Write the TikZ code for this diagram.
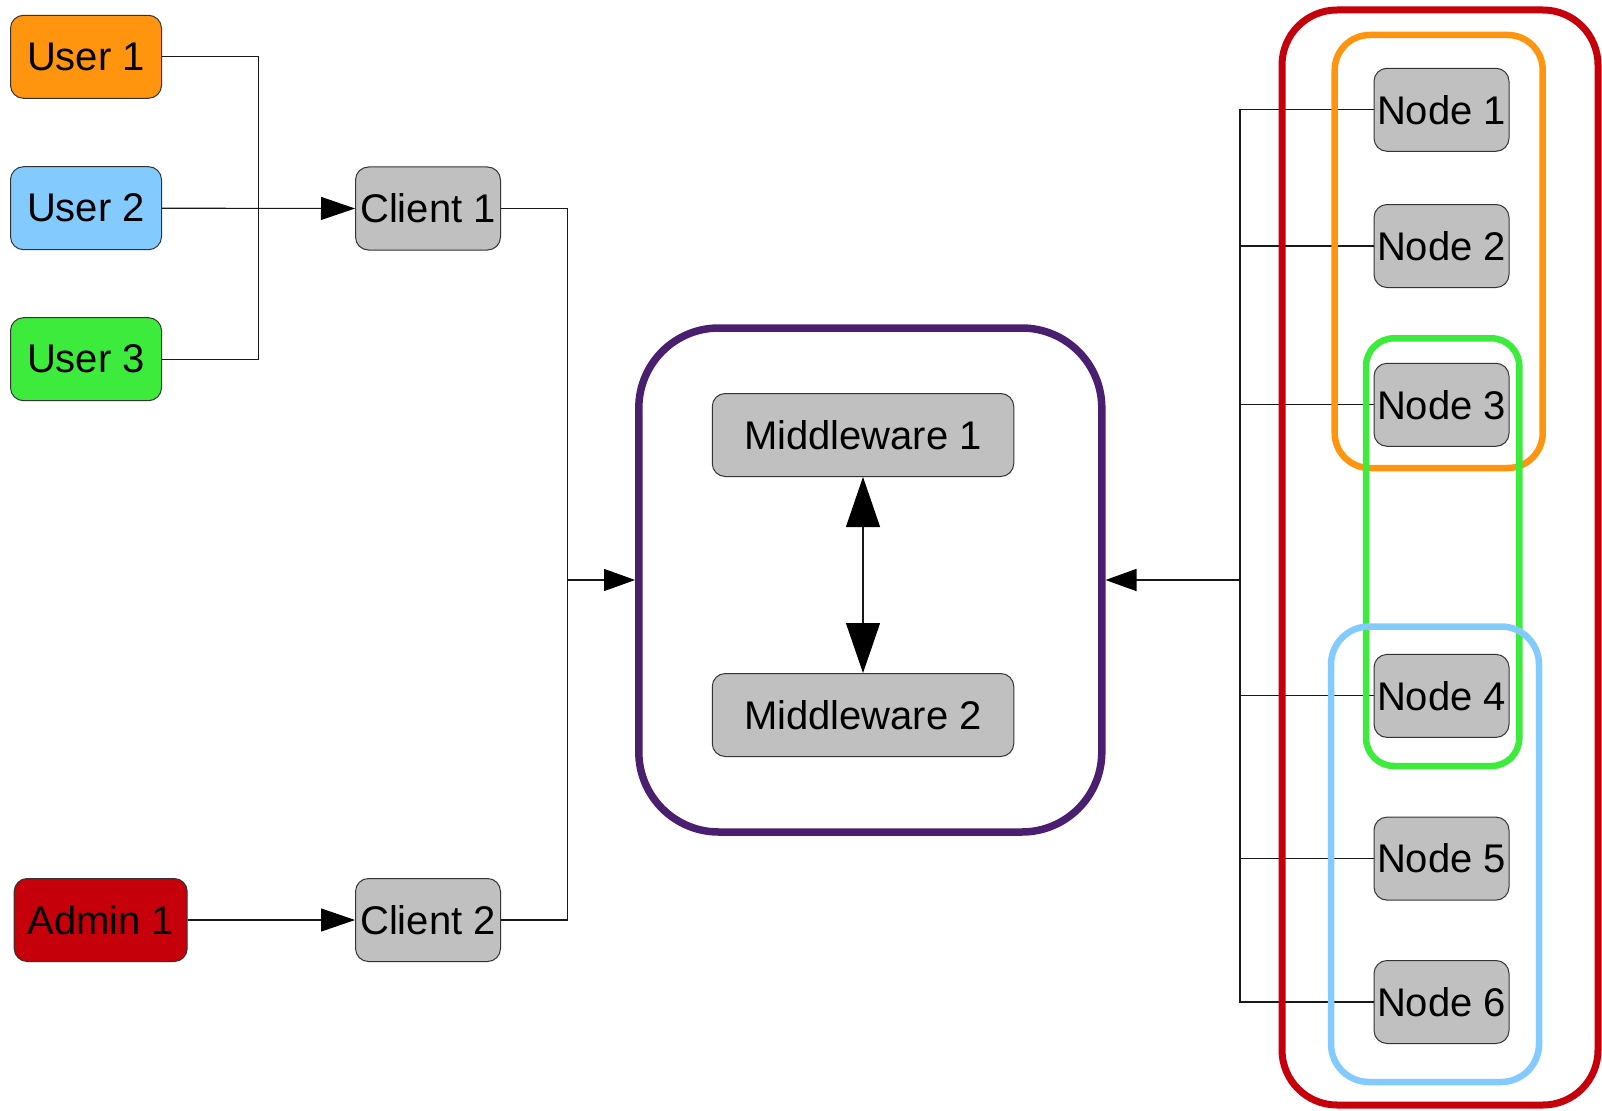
\documentclass[tikz,border=0pt]{standalone}
\usepackage{fontspec}
\setmainfont{Liberation Sans}
\usetikzlibrary{arrows.meta}
\definecolor{uorange}{HTML}{FF950E}
\definecolor{ublue}{HTML}{83CAFF}
\definecolor{ugreen}{HTML}{3DEB3D}
\definecolor{ured}{HTML}{C5000B}
\definecolor{ugray}{HTML}{C0C0C0}
\definecolor{upurple}{HTML}{4B1F6F}
\begin{document}
\begin{tikzpicture}[x=1pt,y=-1pt,
  box/.style={draw=black!80, line width=1pt, rounded corners=13pt, inner sep=0pt,
     minimum height=83pt, font=\fontsize{40}{46}\selectfont},
  userbox/.style={box, minimum width=151pt},
  clientbox/.style={box, fill=ugray, minimum width=145pt},
  mwbox/.style={box, fill=ugray, minimum width=301.5pt},
  nodebox/.style={box, fill=ugray, minimum width=135pt},
  conn/.style={draw=black!90, line width=1.1pt},
  arr/.style={conn, -{Triangle[length=34pt,width=23pt,color=black]}},
  arrs/.style={conn, -{Triangle[length=31pt,width=22pt,color=black]}},
  frame/.style={line width=7pt}
]
\useasboundingbox (0,0) rectangle (1602,1110);

% left side nodes
\node[userbox, fill=uorange] (u1) at (86,56.8) {User 1};
\node[userbox, fill=ublue] (u2) at (86,208.2) {User 2};
\node[userbox, fill=ugreen] (u3) at (86,359.2) {User 3};
\node[box, fill=ured, minimum width=173pt] (a1) at (100.7,920) {Admin 1};
\node[clientbox] (c1) at (428,208.5) {Client 1};
\node[clientbox] (c2) at (428,920) {Client 2};

% middleware container
\node[draw=upurple, line width=7.5pt, rounded corners=80pt, minimum width=463pt,
      minimum height=504pt, inner sep=0pt] (mw) at (870.3,580) {};
\node[mwbox] (m1) at (863,435) {Middleware 1};
\node[mwbox] (m2) at (863,715) {Middleware 2};

% right side nodes
\node[nodebox] (n1) at (1441.5,109.8) {Node 1};
\node[nodebox] (n2) at (1441.5,246) {Node 2};
\node[nodebox] (n3) at (1441.5,404.8) {Node 3};
\node[nodebox] (n4) at (1441.5,695.9) {Node 4};
\node[nodebox] (n5) at (1441.5,858.6) {Node 5};
\node[nodebox] (n6) at (1441.5,1002) {Node 6};

% coordinates
\coordinate (jU) at (258.5,208.2);
\coordinate (jC) at (567.5,580);
\coordinate (jN) at (1240,580);

% left connectors
\draw[conn] (u1.east) -| (jU) |- (u3.east);
\draw[arr] (u2.east) -- (c1.west);
\draw[arr] (a1.east) -- (c2.west);
\draw[conn] (c1.east) -| (jC) |- (c2.east);
\draw[arrs] (jC) -- (mw.west);

% middleware double arrow
\draw[conn, {Triangle[length=50pt,width=34pt,color=black]}-{Triangle[length=50pt,width=34pt,color=black]}] (m1.south) -- (m2.north);

% right connectors
\draw[conn] (n1.west) -| (jN) |- (n6.west);
\foreach \n in {n2,n3,n4,n5} { \draw[conn] (\n.west) -- (jN |- \n.west); }
\draw[arrs, line width=1.8pt] (jN) -- (mw.east);

% group frames
\draw[frame, draw=ured, rounded corners=55pt] (1282,10) rectangle (1598,1105);
\draw[frame, draw=uorange, line width=6.5pt, rounded corners=35pt] (1334.7,35) rectangle (1542.7,468);
\draw[frame, draw=ugreen, line width=6.5pt, rounded corners=28pt] (1366,338.3) rectangle (1519.3,766);
\draw[frame, draw=ublue, line width=6.5pt, rounded corners=38pt] (1331,626.5) rectangle (1539,1082);
\end{tikzpicture}
\end{document}
